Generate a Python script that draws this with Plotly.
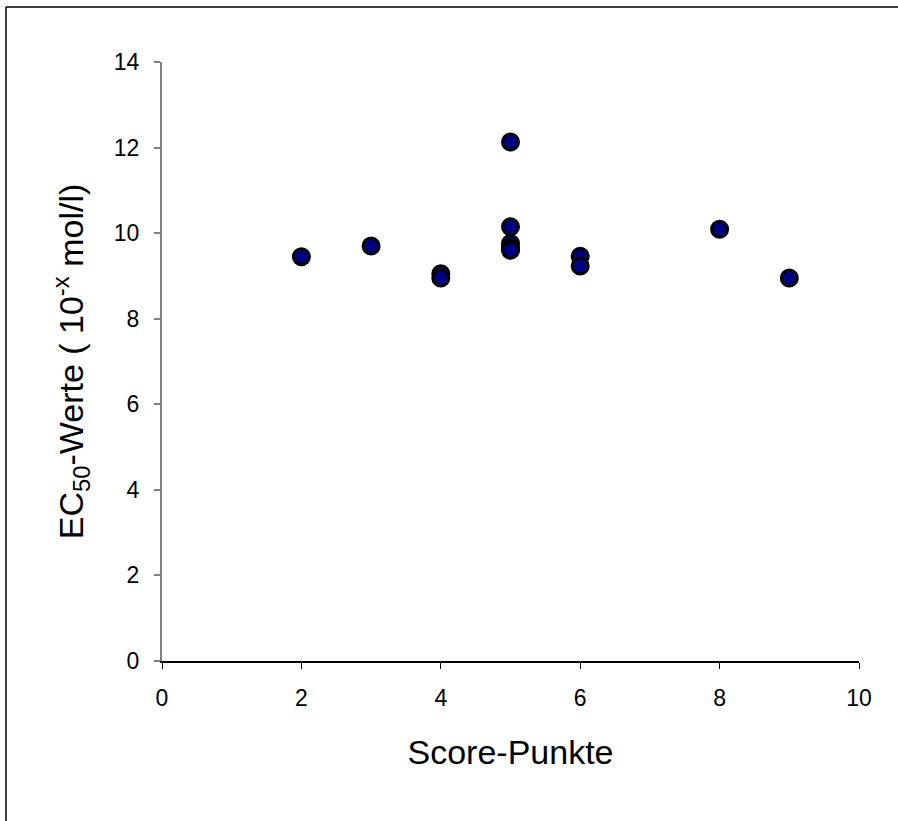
import plotly.graph_objects as go

score = [2, 3, 4, 4, 5, 5, 5, 5, 5, 6, 6, 8, 9]
ec50 = [9.45, 9.70, 9.05, 8.95, 12.13, 10.15, 9.76, 9.65, 9.60, 9.46, 9.23, 10.09, 8.95]

W, H = 898, 821
L, R, T, B = 162, 39, 62, 160
pw, ph = W - L - R, H - T - B

fig = go.Figure()
fig.add_trace(go.Scatter(
    x=score, y=ec50, mode="markers",
    marker=dict(size=16, color="#000080", line=dict(color="black", width=3)),
    showlegend=False, hoverinfo="x+y"))

def px_x(p):
    return (p - L) / pw

def px_y(p):
    return (H - B - p) / ph

fig.add_shape(type="line", xref="paper", yref="paper",
              x0=px_x(6), x1=px_x(898), y0=px_y(7), y1=px_y(7),
              line=dict(color="black", width=1.5))
fig.add_shape(type="line", xref="paper", yref="paper",
              x0=px_x(6), x1=px_x(6), y0=px_y(7), y1=px_y(821),
              line=dict(color="black", width=1.5))

font = "Liberation Sans, Arial, sans-serif"
fig.update_layout(
    width=W, height=H,
    margin=dict(l=L, r=R, t=T, b=B),
    paper_bgcolor="white", plot_bgcolor="white",
    font=dict(family=font, color="black"),
    xaxis=dict(range=[0, 10], tickvals=[0, 2, 4, 6, 8, 10], showgrid=False, zeroline=False,
               showline=True, linecolor="black", linewidth=1.5,
               ticks="outside", ticklen=6, tickcolor="black", tickwidth=1,
               ticklabelstandoff=10,
               tickfont=dict(size=23, family=font),
               title=dict(text="Score-Punkte", font=dict(size=34, family=font), standoff=30)),
    yaxis=dict(range=[0, 14], tickvals=[0, 2, 4, 6, 8, 10, 12, 14], showgrid=False, zeroline=False,
               showline=True, linecolor="#808080", linewidth=2,
               ticks="outside", ticklen=6, tickcolor="#808080", tickwidth=1.5,
               ticklabelstandoff=10,
               tickfont=dict(size=23, family=font),
               title=dict(text="EC<sub>50</sub>-Werte ( 10<sup>-x</sup> mol/l)",
                          font=dict(size=34, family=font), standoff=20)),
)

fig.write_html("out.html", config={"displayModeBar": False},
               post_script="document.body.style.margin='0';document.body.style.overflow='hidden';")
